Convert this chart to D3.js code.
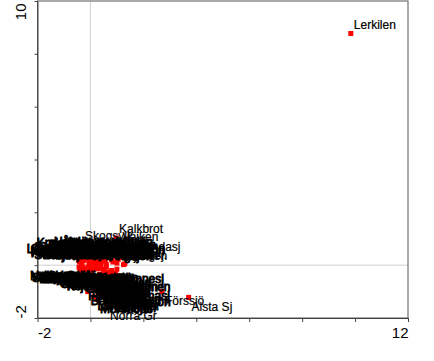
<!DOCTYPE html>
<html><head><meta charset="utf-8">
<script src="https://cdn.jsdelivr.net/npm/d3@7/dist/d3.min.js"></script>
<style>body{margin:0;background:#fff}svg{display:block}</style>
</head><body>
<svg id="c" width="434" height="361"></svg>
<script>
// Site names (CANOCO-style 8-char labels)
const sites = [
// lower cluster
"Vikasjön","Lygnern","Stora Le","Aspen","Nedre Gr","Stigsjön","Lidsjön","Trännin.","Grytsjön","Backsjön",
"Ärtingen","Kolsjön","Långaren","Nären","Ormsjön","Idsjön","Djupsjön","Fryken","Storån","Rännesj",
"Mellanfj","Ömmern","Hornsjön","Frisjön","Sävsjön","Barnsjön","Öresjön","Kärrsjön","Tolken","Loftsjön",
"Rådasjön","Björsjön","Vänsjön","Hjärtsjö","Marsjön","Morsbods","Tisjön","Borasjön",
"Hultsjön","Valasjön","Ljungsj","Hästsjön","Ramsjön","Gåsjön","Kvisten","Vrången","Vällen","Kroktjär",
"Lommasj","Glimmen","Norra Gr","Ringsjön",
// upper cluster
"Långsjön","Björken","Abborrsj","Rösjön","Mörtsjön","Ulvsjön","Storsjön","Bysjön","Gransjön","Lommen",
"Svartsjö","Dammsjön","Kroksjön","Kvarnsjö","Östersjö","Kyrksjön","Tallsjön","Bergsjön","Västersj","Stensjön",
"Hålsjön","Ängsjön","Ljusvatt","Fisksjön","Gäddsjön","Holmsjön","Norrsjön","Vitsjön","Söderfj","Tärnan",
"Björnsjö","Hällsjön","Ekesjön","Lysjön","Hemsjön","Humlen","Älgsjön","Rotsjön","Lillsjön","Sjövik",
"Näsasjön","Flaten","Sandsjön","Bäcksjön","Mossjön","Oxsjön",
// outer sites
"Skogsvik","Kalkbrot","Vajken","Grundasj","Tjärnen","Skogsj.","Förssjö","Alsta Sj","Lerkilen"
];
// Axis 1 scores
const axis1 = [
-0.43,-0.40,-0.38,-0.35,-0.30,-0.25,-0.20,-0.15,-0.10,0.00,
0.00,0.20,0.10,0.35,0.20,0.50,0.30,0.80,0.40,1.00,
0.50,-0.30,0.60,-0.20,0.65,-0.10,0.55,-0.05,0.45,0.15,
0.95,0.10,1.05,0.15,0.80,0.25,0.35,0.30,
0.40,0.45,0.55,0.60,0.65,0.70,0.75,0.85,0.90,0.95,
1.05,1.10,0.63,1.15,
-0.45,-0.40,-0.42,-0.30,-0.40,-0.20,-0.35,-0.10,-0.30,0.00,
-0.22,0.10,-0.15,0.20,-0.05,0.30,0.05,0.40,0.15,0.50,
0.25,0.60,0.35,0.70,0.45,0.80,0.55,0.90,0.65,1.00,
0.75,1.10,0.85,-0.05,0.95,0.25,1.05,0.55,0.00,0.85,
-0.25,-0.35,0.20,0.15,0.60,0.45,
-0.32,0.97,1.10,1.45,1.25,1.30,2.70,3.71,9.84
];
// Axis 2 scores
const axis2 = [
-0.08,-0.10,-0.12,-0.30,-0.06,-0.18,-0.15,-0.40,-0.07,-0.25,
-0.12,-0.12,-0.17,-0.35,-0.06,-0.20,-0.14,-0.30,-0.09,-0.15,
-0.16,-0.55,-0.05,-0.80,-0.25,-1.00,-0.35,-0.65,-0.42,-1.20,
-0.30,-0.50,-0.40,-0.90,-0.20,-1.30,-0.42,-0.70,
-1.05,-0.55,-0.85,-1.25,-0.45,-0.70,-1.10,-0.95,-0.60,-1.20,
-0.80,-0.45,-1.58,-1.05,
0.30,0.35,0.12,0.15,0.22,0.50,0.05,0.25,0.28,0.05,
0.38,0.40,0.50,0.20,0.15,0.52,0.45,0.10,0.25,0.35,
0.55,0.03,0.08,0.45,0.40,0.20,0.18,0.55,0.50,0.08,
0.30,0.30,0.12,0.10,0.45,0.30,0.22,0.15,0.35,0.40,
0.18,0.45,0.05,0.12,0.35,0.25,
0.80,1.03,0.75,0.35,0.02,0.05,-1.00,-1.22,8.77
];
const xTicks = [-2,0,2,4,6,8,10,12];
const yTicks = [-2,0,2,4,6,8,10];
const xTickLabels = {"-2":"-2","12":"12"};
const yTickLabels = {"-2":"-2","10":"10"};

const svg = d3.select("#c");
const x = d3.scaleLinear().domain([-2,12]).range([37.5,408]);
const y = d3.scaleLinear().domain([-2,10]).range([318,1]);
const FONT = "'Liberation Sans', Arial, sans-serif";

// reference lines
svg.append("line").attr("x1",x(0)).attr("x2",x(0)).attr("y1",y(10)).attr("y2",y(-2))
  .attr("stroke","#cfcfcf").attr("stroke-width",1);
svg.append("line").attr("x1",x(-2)).attr("x2",x(12)).attr("y1",y(0)).attr("y2",y(0))
  .attr("stroke","#cfcfcf").attr("stroke-width",1);

// frame
svg.append("rect").attr("x",x(-2)).attr("y",y(10)).attr("width",x(12)-x(-2)).attr("height",y(-2)-y(10))
  .attr("fill","none").attr("stroke","#555").attr("stroke-width",1);

// axes
const xa = svg.append("g").attr("transform",`translate(0,${y(-2)})`)
  .call(d3.axisBottom(x).tickValues(xTicks).tickSize(4).tickSizeOuter(0).tickPadding(5)
    .tickFormat(d => xTickLabels[d] || ""));
xa.select(".domain").attr("stroke","#444");
xa.selectAll(".tick line").attr("stroke","#444");
xa.selectAll("text").attr("font-family",FONT).attr("font-size",15).attr("fill","#000")
  .attr("text-anchor", d => d===-2 ? "start" : "end");

const ya = svg.append("g").attr("transform",`translate(${x(-2)},0)`)
  .call(d3.axisLeft(y).tickValues(yTicks).tickSize(3).tickSizeOuter(0)
    .tickFormat(d => yTickLabels[d] || ""));
ya.select(".domain").attr("stroke","#444");
ya.selectAll(".tick line").attr("stroke","#444");
ya.selectAll("text").attr("font-family",FONT).attr("font-size",15).attr("fill","#000")
  .attr("x",null).attr("dy",null)
  .attr("transform", d => d===-2 ? "translate(-11.5,0) rotate(-90)" : "translate(-11.5,2) rotate(-90)")
  .attr("text-anchor", d => d===-2 ? "start" : "end");

// points, then labels on top (labels alternate sides inside the dense cluster)
const data = sites.map((s,i)=>({name:s, a:axis1[i], b:axis2[i], i}));
const leftSide = d => d.i % 2 === 0 && d.a < 1.2 && d.b > -0.45 && d.b < 0.75;
const dense = d => Math.abs(d.a) < 1.2 && d.b > -1.35 && d.b < 0.75;
svg.append("g").selectAll("rect").data(data).join("rect")
  .attr("x", d => x(d.a)-2.5).attr("y", d => y(d.b)-2.5)
  .attr("width",5).attr("height",5).attr("fill","#ff0000");
svg.append("g").selectAll("text").data(data).join("text")
  .attr("x", d => leftSide(d) ? x(d.a)-3 : x(d.a)+3)
  .attr("y", d => d.b < 0 ? y(d.b)+13.5 : y(d.b)-4.5)
  .attr("text-anchor", d => leftSide(d) ? "end" : "start")
  .attr("font-family",FONT).attr("font-size",12).attr("fill","#000")
  .attr("stroke","#000").attr("stroke-width", d => dense(d) ? 0.9 : 0.2)
  .text(d => d.name);
</script>
</body></html>
